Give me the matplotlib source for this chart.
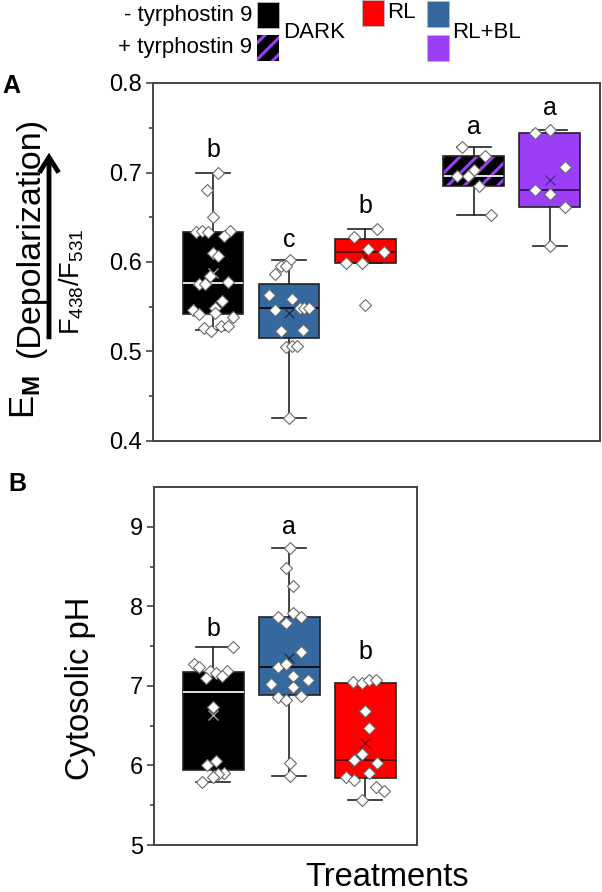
import matplotlib
matplotlib.use('Agg')
import matplotlib.pyplot as plt
from matplotlib.patches import Rectangle, FancyArrowPatch

plt.rcParams['font.family'] = ['Liberation Sans', 'DejaVu Sans']
plt.rcParams['mathtext.fontset'] = 'custom'
plt.rcParams['mathtext.rm'] = 'Liberation Sans'
plt.rcParams['mathtext.bf'] = 'Liberation Sans:bold'
plt.rcParams['hatch.linewidth'] = 2.2

# ---- data ----
# panel A: membrane potential (F438/F531)
a_groups = ['DARK', 'RL+BL', 'RL', 'DARK + tyrphostin 9', 'RL+BL + tyrphostin 9']
a_q1 = [0.542, 0.515, 0.599, 0.685, 0.662]
a_med = [0.577, 0.549, 0.611, 0.696, 0.681]
a_q3 = [0.633, 0.575, 0.626, 0.718, 0.744]
a_lo = [0.524, 0.426, 0.599, 0.653, 0.618]
a_hi = [0.699, 0.602, 0.637, 0.729, 0.7475]
a_mean = [0.588, 0.543, 0.607, float('nan'), 0.692]
a_letters = ['b', 'c', 'b', 'a', 'a']
a_letter_y = [0.725, 0.625, 0.663, 0.751, 0.772]

a_pts = [
    [0.699, 0.680, 0.650, 0.634, 0.635, 0.633, 0.635, 0.629, 0.610, 0.607, 0.584, 0.575,
     0.575, 0.578, 0.556, 0.549, 0.546, 0.543, 0.542, 0.539, 0.526, 0.523, 0.528, 0.528],
    [0.602, 0.596, 0.595, 0.587, 0.563, 0.559, 0.546, 0.549, 0.549, 0.549, 0.523, 0.524,
     0.505, 0.506, 0.506, 0.426],
    [0.637, 0.628, 0.614, 0.611, 0.599, 0.599, 0.552],
    [0.729, 0.718, 0.703, 0.696, 0.696, 0.685, 0.653],
    [0.744, 0.7475, 0.7065, 0.681, 0.676, 0.662, 0.618],
]
a_jit = [
    [0.07, -0.08, 0.0, -0.22, -0.14, -0.07, 0.22, 0.15, 0.0, 0.07, -0.04, -0.19,
     -0.11, 0.19, 0.12, 0.03, -0.26, 0.03, -0.19, 0.26, -0.12, -0.03, 0.10, 0.19],
    [0.01, -0.11, -0.035, -0.19, -0.26, 0.035, -0.19, 0.14, 0.19, 0.26, -0.11, 0.18,
     -0.035, 0.045, 0.11, 0.0],
    [0.15, -0.15, 0.044, 0.245, -0.254, -0.044, 0.0],
    [-0.15, 0.15, 0.0, -0.22, -0.077, 0.068, 0.22],
    [-0.2, 0.0, 0.2, -0.2, 0.0, 0.2, 0.0],
]

# panel B: cytosolic pH
b_groups = ['DARK', 'RL+BL', 'RL']
b_q1 = [5.94, 6.88, 5.84]
b_med = [6.92, 7.24, 6.07]
b_q3 = [7.18, 7.86, 7.04]
b_lo = [5.79, 5.87, 5.57]
b_hi = [7.49, 8.73, 7.04]
b_mean = [6.63, 7.35, 6.28]
b_letters = ['b', 'a', 'b']
b_letter_y = [7.72, 9.0, 7.42]

b_pts = [
    [7.49, 7.28, 7.24, 7.19, 7.16, 7.19, 7.10, 7.12, 6.74, 6.00, 6.06, 5.91, 5.89, 5.85, 5.79],
    [8.73, 8.48, 8.25, 7.92, 7.87, 7.86, 7.79, 7.43, 7.24, 7.27, 7.12, 7.02, 6.99, 7.07,
     6.86, 6.82, 6.87, 6.03, 5.87],
    [7.05, 7.04, 7.08, 7.08, 6.68, 6.47, 6.15, 6.07, 6.03, 5.91, 5.85, 5.82, 5.73, 5.68, 5.57],
]
b_jit = [
    [0.265, -0.257, -0.19, -0.037, 0.037, 0.18, -0.10, 0.11, 0.0, -0.085, 0.03, 0.147,
     0.06, -0.007, -0.147],
    [0.01, -0.05, 0.05, 0.05, 0.15, -0.145, -0.044, 0.15, -0.145, -0.044, 0.05, -0.245,
     0.05, 0.25, -0.145, -0.044, 0.15, 0.01, 0.01],
    [-0.158, -0.048, 0.053, 0.14, 0.0, 0.044, -0.048, -0.15, 0.15, 0.044, -0.254, -0.15,
     0.14, 0.245, -0.048],
]

# ---- styles ----
BLACK = '#000000'
BLUE = '#3668a0'
RED = '#ff0000'
PURPLE = '#9b3ff7'
a_face = [BLACK, BLUE, RED, BLACK, PURPLE]
a_median_c = ['#e0e0e0', '#111111', '#5a0000', '#e8dcff', '#3a1070']
a_mean_c = ['#9a9a9a', '#1a3350', '#8a0000', '#000000', '#5a20a0']
a_pos = [1, 2, 3, 4.43, 5.43]
b_face = [BLACK, BLUE, RED]
b_median_c = ['#e0e0e0', '#111111', '#5a0000']
b_mean_c = ['#9a9a9a', '#1a3350', '#8a0000']
b_pos = [1, 2, 3]

W, H = 602, 892
fig = plt.figure(figsize=(W / 100, H / 100), dpi=100)


def fx(x):
    return x / W


def fy(y):
    return 1 - y / H


def draw_panel(ax, pos, q1, med, q3, lo, hi, mean, pts, jit, faces, med_c, mean_c,
               letters, letter_y, hatched=()):
    stats = []
    for i in range(len(pos)):
        stats.append({'q1': q1[i], 'med': med[i], 'q3': q3[i],
                      'whislo': lo[i], 'whishi': hi[i], 'fliers': []})
    bp = ax.bxp(stats, positions=pos, widths=0.8, patch_artist=True,
                showfliers=False, capwidths=0.45,
                boxprops=dict(linewidth=1.2, edgecolor='#222222'),
                whiskerprops=dict(linewidth=1.2, color='#222222'),
                capprops=dict(linewidth=1.2, color='#222222'),
                medianprops=dict(linewidth=1.4))
    for i, box in enumerate(bp['boxes']):
        box.set_facecolor(faces[i])
        bp['medians'][i].set_color(med_c[i])
        if i in hatched:
            box.set_hatch('//')
            box.set_edgecolor(PURPLE)
            box.set_linewidth(0)
            x0 = pos[i] - 0.4
            ax.add_patch(Rectangle((x0, q1[i]), 0.8, q3[i] - q1[i], fill=False,
                                   edgecolor='#222222', linewidth=1.2, zorder=2.5))
    for i in range(len(pos)):
        ax.plot(pos[i], mean[i], marker='x', ms=7, mew=1.0, color=mean_c[i],
                zorder=3, linestyle='none')
        xs = [pos[i] + j for j in jit[i]]
        ax.plot(xs, pts[i], linestyle='none', marker='D', ms=6.2, mfc='white',
                mec='#6a6a6a', mew=0.8, zorder=4)
        ax.text(pos[i], letter_y[i], letters[i], ha='center', va='center', fontsize=18)
    ax.set_xticks([])
    for s in ax.spines.values():
        s.set_color('#444444')
        s.set_linewidth(1.4)
    ax.tick_params(axis='y', which='major', length=5, width=1.2, color='#444444',
                   labelsize=17, pad=3)
    ax.tick_params(axis='y', which='minor', length=3, width=1.2, color='#444444')


# panel A
axA = fig.add_axes([fx(153), fy(441), (600 - 153) / W, (441 - 83) / H])
draw_panel(axA, a_pos, a_q1, a_med, a_q3, a_lo, a_hi, a_mean, a_pts, a_jit,
           a_face, a_median_c, a_mean_c, a_letters, a_letter_y, hatched=(3,))
axA.set_xlim(0.21, 6.09)
axA.set_ylim(0.4, 0.8)
axA.set_yticks([0.4, 0.5, 0.6, 0.7, 0.8])
axA.set_yticks([0.45, 0.55, 0.65, 0.75], minor=True)

# panel B
axB = fig.add_axes([fx(154), fy(845), (417 - 154) / W, (845 - 487) / H])
draw_panel(axB, b_pos, b_q1, b_med, b_q3, b_lo, b_hi, b_mean, b_pts, b_jit,
           b_face, b_median_c, b_mean_c, b_letters, b_letter_y)
axB.set_xlim(0.22, 3.68)
axB.set_ylim(5, 9.5)
axB.set_yticks([5, 6, 7, 8, 9])
axB.set_yticks([5.5, 6.5, 7.5, 8.5], minor=True)

# panel letters and axis titles
fig.text(fx(11), fy(86), 'A', fontsize=18, fontweight='bold', ha='center', va='center')
fig.text(fx(17), fy(484), 'B', fontsize=18, fontweight='bold', ha='center', va='center')
fig.text(fx(25), fy(397), r'E$_{\mathbf{M}}$', fontsize=25, rotation=90,
         ha='center', va='center')
fig.text(fx(30), fy(237), '(Depolarization)', fontsize=24.5, rotation=90,
         ha='center', va='center')
fig.text(fx(72), fy(282), r'F$_{438}$/F$_{531}$', fontsize=19.5, rotation=90,
         ha='center', va='center')
fig.patches.append(FancyArrowPatch(
    (fx(49), fy(342)), (fx(49), fy(150)), transform=fig.transFigure,
    arrowstyle='->,head_length=4.4,head_width=2.8', mutation_scale=2.5,
    linewidth=3.5, color='black', capstyle='butt', joinstyle='miter'))
fig.text(fx(80), fy(688), 'Cytosolic pH', fontsize=23.5, rotation=90,
         ha='center', va='center')
fig.text(fx(387), fy(877), 'Treatments', fontsize=23.5, ha='center', va='center')

# legend drawn by hand
leg = [(257, 2, BLACK, None), (257, 35, BLACK, '//'), (362, 0, RED, None),
       (427, 1, BLUE, None), (427, 35, PURPLE, None)]
for x, y, c, h in leg:
    fig.patches.append(Rectangle((fx(x), fy(y + 26)), 22 / W, 26 / H,
                                 transform=fig.transFigure, facecolor=c,
                                 edgecolor=PURPLE if h else '#bbbbbb',
                                 hatch=h, linewidth=0 if h else 0.6))
fig.text(fx(252), fy(15), '- tyrphostin 9', fontsize=16, ha='right', va='center')
fig.text(fx(252), fy(47), '+ tyrphostin 9', fontsize=16, ha='right', va='center')
fig.text(fx(283), fy(33), 'DARK', fontsize=16, ha='left', va='center')
fig.text(fx(387), fy(13), 'RL', fontsize=16, ha='left', va='center')
fig.text(fx(452), fy(33), 'RL+BL', fontsize=16, ha='left', va='center')

fig.savefig('out.png', dpi=100)
